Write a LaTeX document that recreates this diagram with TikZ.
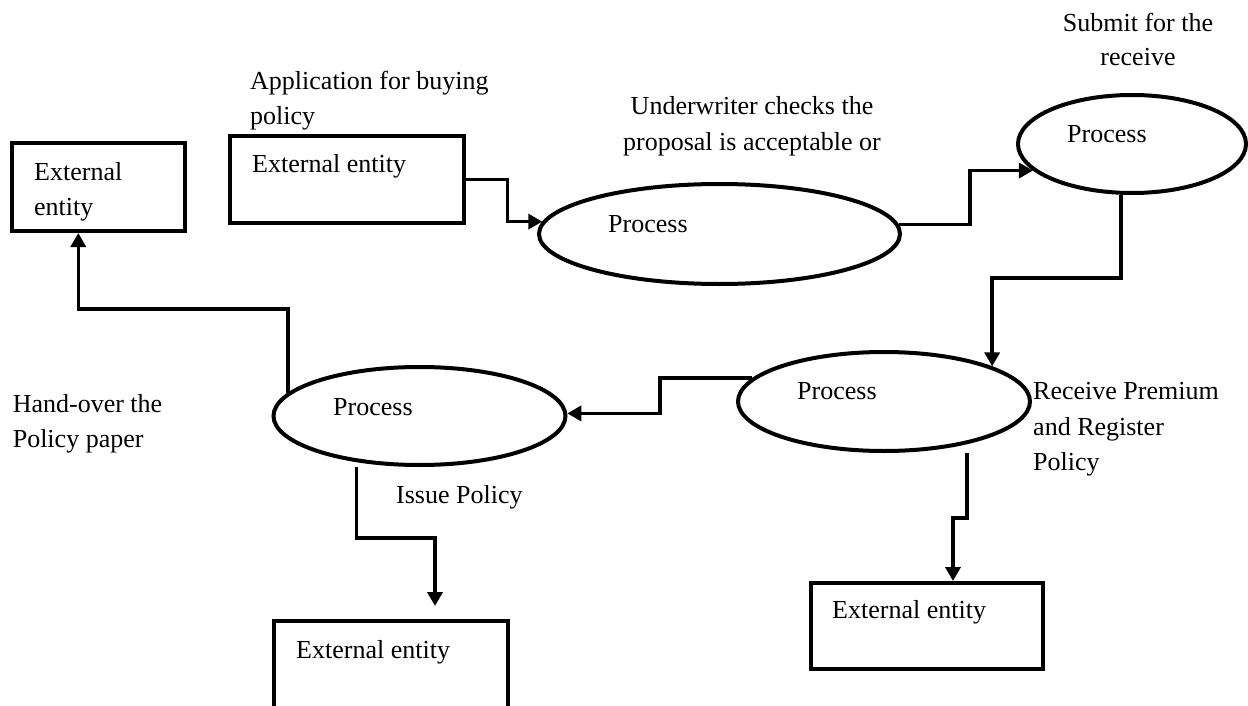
\documentclass[tikz,border=0pt]{standalone}
\usepackage{fontspec}
\setmainfont{Liberation Serif}
\usetikzlibrary{shapes.geometric,arrows.meta}
\begin{document}
\begin{tikzpicture}[x=1pt,y=-1pt,
  entity/.style={draw,line width=4pt,rectangle,inner sep=0pt},
  proc/.style={draw,line width=4pt,ellipse,inner sep=0pt},
  flow/.style={line width=3.6pt,-{Triangle[length=14pt,width=15pt]}},
  txt/.style={font=\fontsize{26}{35}\selectfont,inner sep=0pt,anchor=base west},
  ctxt/.style={txt,anchor=base}]
\useasboundingbox (0,0) rectangle (1248,706);
\clip (0,0) rectangle (1248,706);
\fill[white] (0,0) rectangle (1248,706);

% external entities
\node[entity,minimum width=172.6pt,minimum height=88pt] (A) at (98.3,187) {};
\node[entity,minimum width=234.7pt,minimum height=87pt] (B) at (347,179.5) {};
\node[entity,minimum width=234pt,minimum height=110pt] (C) at (391,676) {};
\node[entity,minimum width=232pt,minimum height=86pt] (D) at (927,626) {};

% processes
\node[proc,minimum width=361pt,minimum height=100pt] (P1) at (719.5,234) {};
\node[proc,minimum width=228pt,minimum height=98pt] (P2) at (1132,144) {};
\node[proc,minimum width=292pt,minimum height=99pt] (P3) at (884,401.5) {};
\node[proc,minimum width=292pt,minimum height=98pt] (P4) at (419.5,416) {};

% texts inside the shapes
\node[txt] (tA1) at (34,180) {External};
\node[txt] (tA2) at (34,215) {entity};
\node[txt] (tB) at (252,173) {External entity};
\node[txt] (tC) at (296,658) {External entity};
\node[txt] (tD) at (832,618) {External entity};
\node[txt] (tP1) at (608,232) {Process};
\node[txt] (tP2) at (1067,143) {Process};
\node[txt] (tP3) at (797,399) {Process};
\node[txt] (tP4) at (333,415) {Process};

% flow labels
\node[txt] (l1a) at (250,90) {Application for buying};
\node[txt] (l1b) at (250,125) {policy};
\node[ctxt] (l2a) at (752,115) {Underwriter checks the};
\node[ctxt] (l2b) at (752,150) {proposal is acceptable or};
\node[ctxt] (l3a) at (1138,32) {Submit for the};
\node[ctxt] (l3b) at (1138,66) {receive};
\node[txt] (l4a) at (1033,399) {Receive Premium};
\node[txt] (l4b) at (1033,435) {and Register};
\node[txt] (l4c) at (1033,470) {Policy};
\node[txt] (l5a) at (12.6,412) {Hand-over the};
\node[txt] (l5b) at (12.6,447) {Policy paper};
\node[txt] (l6) at (396,503) {Issue Policy};

% connector end points
\coordinate (Aend) at ([xshift=-20pt]A.south);
\coordinate (Cend) at ([xshift=44pt,yshift=13pt]C.north);
\coordinate (Dend) at ([xshift=26pt]D.north);

% data flows
\draw[flow] (B.east) -- ++(41,0) |- (P1.176.4);
\draw[flow] (P1.3.6) -- ++(71,0) |- (P2.195);
\draw[flow] ([xshift=-11pt]P2.south) -- ++(0,83) -| (P3.18.6);
\draw[flow] (P3.170.6) -- ++(-92,0) |- (P4.1.5);
\draw[flow] (P4.170.6) -- ++(0,-84) -| (Aend);
\draw[flow] ([xshift=-63pt]P4.south) -- ++(0,71) -| (Cend);
\draw[flow] ([xshift=83pt]P3.south) -- ++(0,65) -| (Dend);
\end{tikzpicture}
\end{document}
